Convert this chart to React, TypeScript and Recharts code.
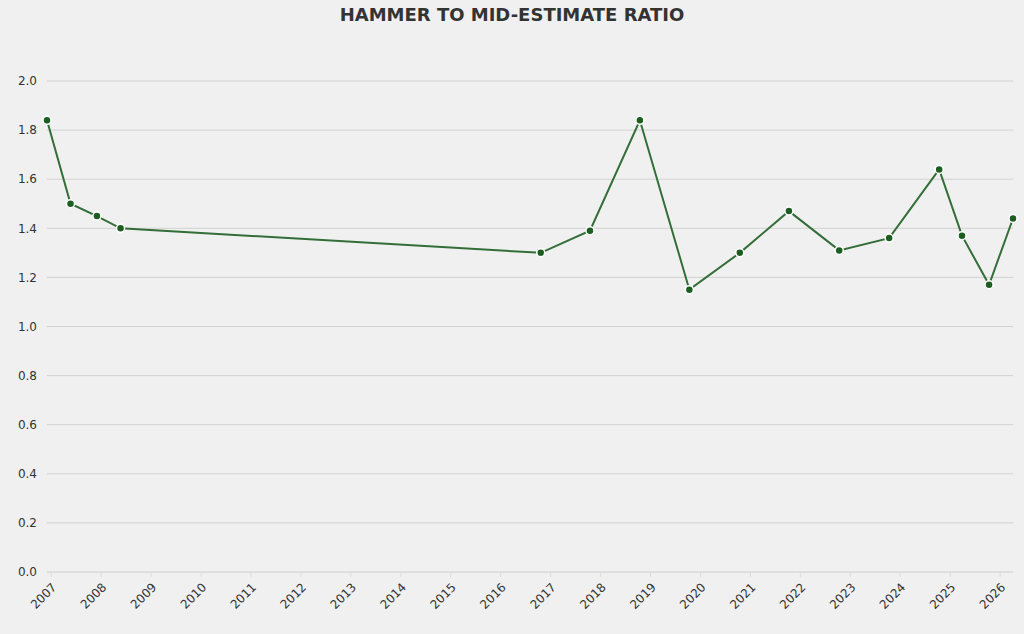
import React from 'react';
import { LineChart, Line, XAxis, YAxis, CartesianGrid } from 'recharts';

const saleDates = [
  '2006-12-01', '2007-05-22', '2007-12-01', '2008-05-22',
  '2016-10-20', '2017-10-15', '2018-10-15', '2019-10-12',
  '2020-10-15', '2021-10-09', '2022-10-12', '2023-10-12',
  '2024-10-12', '2025-03-28', '2025-10-12', '2026-04-05',
];
const ratios = [
  1.84, 1.50, 1.45, 1.40,
  1.30, 1.39, 1.84, 1.15,
  1.30, 1.47, 1.31, 1.36,
  1.64, 1.37, 1.17, 1.44,
];
const yearTicks = [
  2007, 2008, 2009, 2010, 2011, 2012, 2013, 2014, 2015, 2016,
  2017, 2018, 2019, 2020, 2021, 2022, 2023, 2024, 2025, 2026,
];
const ratioTicks = [0, 0.2, 0.4, 0.6, 0.8, 1.0, 1.2, 1.4, 1.6, 1.8, 2.0];

const data = saleDates.map((d, i) => ({ t: Date.parse(d), ratio: ratios[i] }));
const xTicks = yearTicks.map((y) => Date.UTC(y, 0, 1));

const FONT = '"DejaVu Sans", sans-serif';
const LINE = '#336e38';
const DOT = '#1b5e20';

export default function App() {
  return (
    <div style={{ position: 'relative', width: 1024, height: 634, background: '#f0f0f0', fontFamily: FONT }}>
      <style>{'body{margin:0}'}</style>
      <div
        style={{
          position: 'absolute',
          top: 4,
          left: 0,
          width: 1024,
          textAlign: 'center',
          fontSize: 18,
          fontWeight: 'bold',
          color: '#333',
        }}
      >
        HAMMER TO MID-ESTIMATE RATIO
      </div>
      <LineChart
        width={1024}
        height={634}
        data={data}
        margin={{ top: 81, right: 11, bottom: 0, left: 0 }}
        style={{ position: 'absolute', top: 0, left: 0 }}
      >
        <CartesianGrid vertical={false} stroke="#d2d2d2" strokeWidth={1} />
        <XAxis
          dataKey="t"
          type="number"
          scale="time"
          domain={['dataMin', 'dataMax']}
          ticks={xTicks}
          tickFormatter={(v) => String(new Date(v).getUTCFullYear())}
          interval={0}
          height={62}
          angle={-45}
          textAnchor="end"
          stroke="#dcdcdc"
          tickSize={5}
          tickMargin={5}
          tick={{ fill: '#333', fontSize: 12, fontFamily: FONT }}
        />
        <YAxis
          type="number"
          domain={[0, 2]}
          ticks={ratioTicks}
          tickFormatter={(v) => v.toFixed(1)}
          width={47}
          axisLine={false}
          tickLine={false}
          tickMargin={4}
          tick={{ fill: '#333', fontSize: 12, fontFamily: FONT }}
        />
        <Line
          type="linear"
          dataKey="ratio"
          stroke={LINE}
          strokeWidth={2}
          dot={{ r: 4, fill: DOT, stroke: '#fff', strokeWidth: 1.5 }}
          isAnimationActive={false}
        />
      </LineChart>
    </div>
  );
}
